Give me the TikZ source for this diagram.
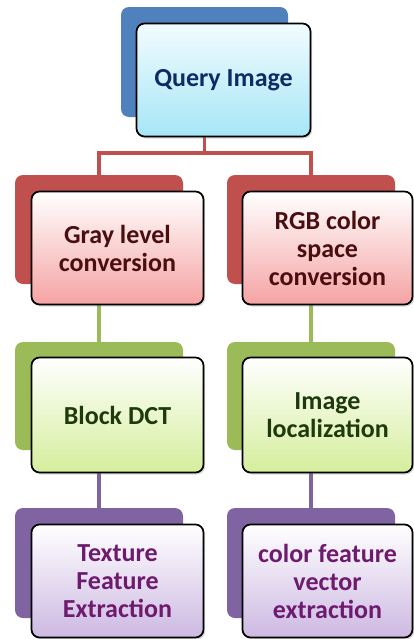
\documentclass[tikz,border=0pt]{standalone}
\usepackage{fontspec}
\setmainfont{Carlito}
\usetikzlibrary{shadows}
\definecolor{qback}{HTML}{4F81BD}
\definecolor{rback}{HTML}{C0504D}
\definecolor{gback}{HTML}{9BBB59}
\definecolor{pback}{HTML}{8064A2}
\definecolor{qtop}{HTML}{F2FCFF}
\definecolor{qmid}{HTML}{C8F0FA}
\definecolor{qbot}{HTML}{A6E6F6}
\definecolor{rmid}{HTML}{FAC9C9}
\definecolor{rbot}{HTML}{F5A3A3}
\definecolor{gmid}{HTML}{ECF7CC}
\definecolor{gbot}{HTML}{D5EE9C}
\definecolor{pmid}{HTML}{E6DDF0}
\definecolor{pbot}{HTML}{CDB9E2}
\definecolor{qtxt}{HTML}{0F2A66}
\definecolor{rtxt}{HTML}{4A0E10}
\definecolor{gtxt}{HTML}{1E3A0C}
\definecolor{ptxt}{HTML}{6E1A6E}
\tikzset{
  backbox/.style={rectangle, rounded corners=6pt, inner sep=0pt, outer sep=0pt},
  frontbox/.style={rectangle, rounded corners=6pt, draw=black, line width=1.3pt,
    inner sep=0pt, outer sep=0pt, align=center, font=\bfseries\fontsize{19.5}{21}\selectfont,
    drop shadow={shadow xshift=1.2pt, shadow yshift=-1.5pt, opacity=0.3}},
  link/.style={line width=2.8pt}
}
\begin{document}
\begin{tikzpicture}[x=0.75pt,y=-0.75pt]
\useasboundingbox (0,0) rectangle (414,639);
% back boxes
\node[backbox, fill=qback, minimum width=167*0.75pt, minimum height=110*0.75pt] (qb) at (204.5,62) {};
\node[backbox, fill=rback, minimum width=168*0.75pt, minimum height=109*0.75pt] (rlb) at (99,229.5) {};
\node[backbox, fill=rback, minimum width=168*0.75pt, minimum height=109*0.75pt] (rrb) at (311,229.5) {};
\node[backbox, fill=gback, minimum width=168*0.75pt, minimum height=108*0.75pt] (glb) at (99,396) {};
\node[backbox, fill=gback, minimum width=168*0.75pt, minimum height=108*0.75pt] (grb) at (311,396) {};
\node[backbox, fill=pback, minimum width=168*0.75pt, minimum height=110*0.75pt] (plb) at (99,563) {};
\node[backbox, fill=pback, minimum width=168*0.75pt, minimum height=110*0.75pt] (prb) at (311,563) {};
% connectors
\coordinate (j) at (204.5,153);
\draw[link, rback] (qb.south) -- (j) -| (rlb.north);
\draw[link, rback] (j) -| (rrb.north);
\draw[link, gback] (rlb.south) -- (glb.north);
\draw[link, gback] (rrb.south) -- (grb.north);
\draw[link, pback] (glb.south) -- (plb.north);
\draw[link, pback] (grb.south) -- (prb.north);
% front boxes
\node[frontbox, top color=qtop, middle color=qmid, bottom color=qbot, text=qtxt,
  minimum width=174*0.75pt, minimum height=113*0.75pt] (qf) at (223.5,80) {Query Image};
\node[frontbox, top color=white, middle color=rmid, bottom color=rbot, text=rtxt,
  minimum width=172*0.75pt, minimum height=113*0.75pt] (rlf) at (117.5,248) {Gray level\\conversion};
\node[frontbox, top color=white, middle color=rmid, bottom color=rbot, text=rtxt,
  minimum width=170*0.75pt, minimum height=113*0.75pt] (rrf) at (327.5,248) {RGB color\\space\\conversion};
\node[frontbox, top color=white, middle color=gmid, bottom color=gbot, text=gtxt,
  minimum width=172*0.75pt, minimum height=115*0.75pt] (glf) at (117.5,415) {Block DCT};
\node[frontbox, top color=white, middle color=gmid, bottom color=gbot, text=gtxt,
  minimum width=170*0.75pt, minimum height=115*0.75pt] (grf) at (327.5,415) {Image\\localization};
\node[frontbox, top color=white, middle color=pmid, bottom color=pbot, text=ptxt,
  minimum width=172*0.75pt, minimum height=113*0.75pt] (plf) at (117.5,581) {Texture\\Feature\\Extraction};
\node[frontbox, top color=white, middle color=pmid, bottom color=pbot, text=ptxt,
  minimum width=170*0.75pt, minimum height=113*0.75pt] (prf) at (327.5,581) {color feature\\vector\\extraction};
\end{tikzpicture}
\end{document}
